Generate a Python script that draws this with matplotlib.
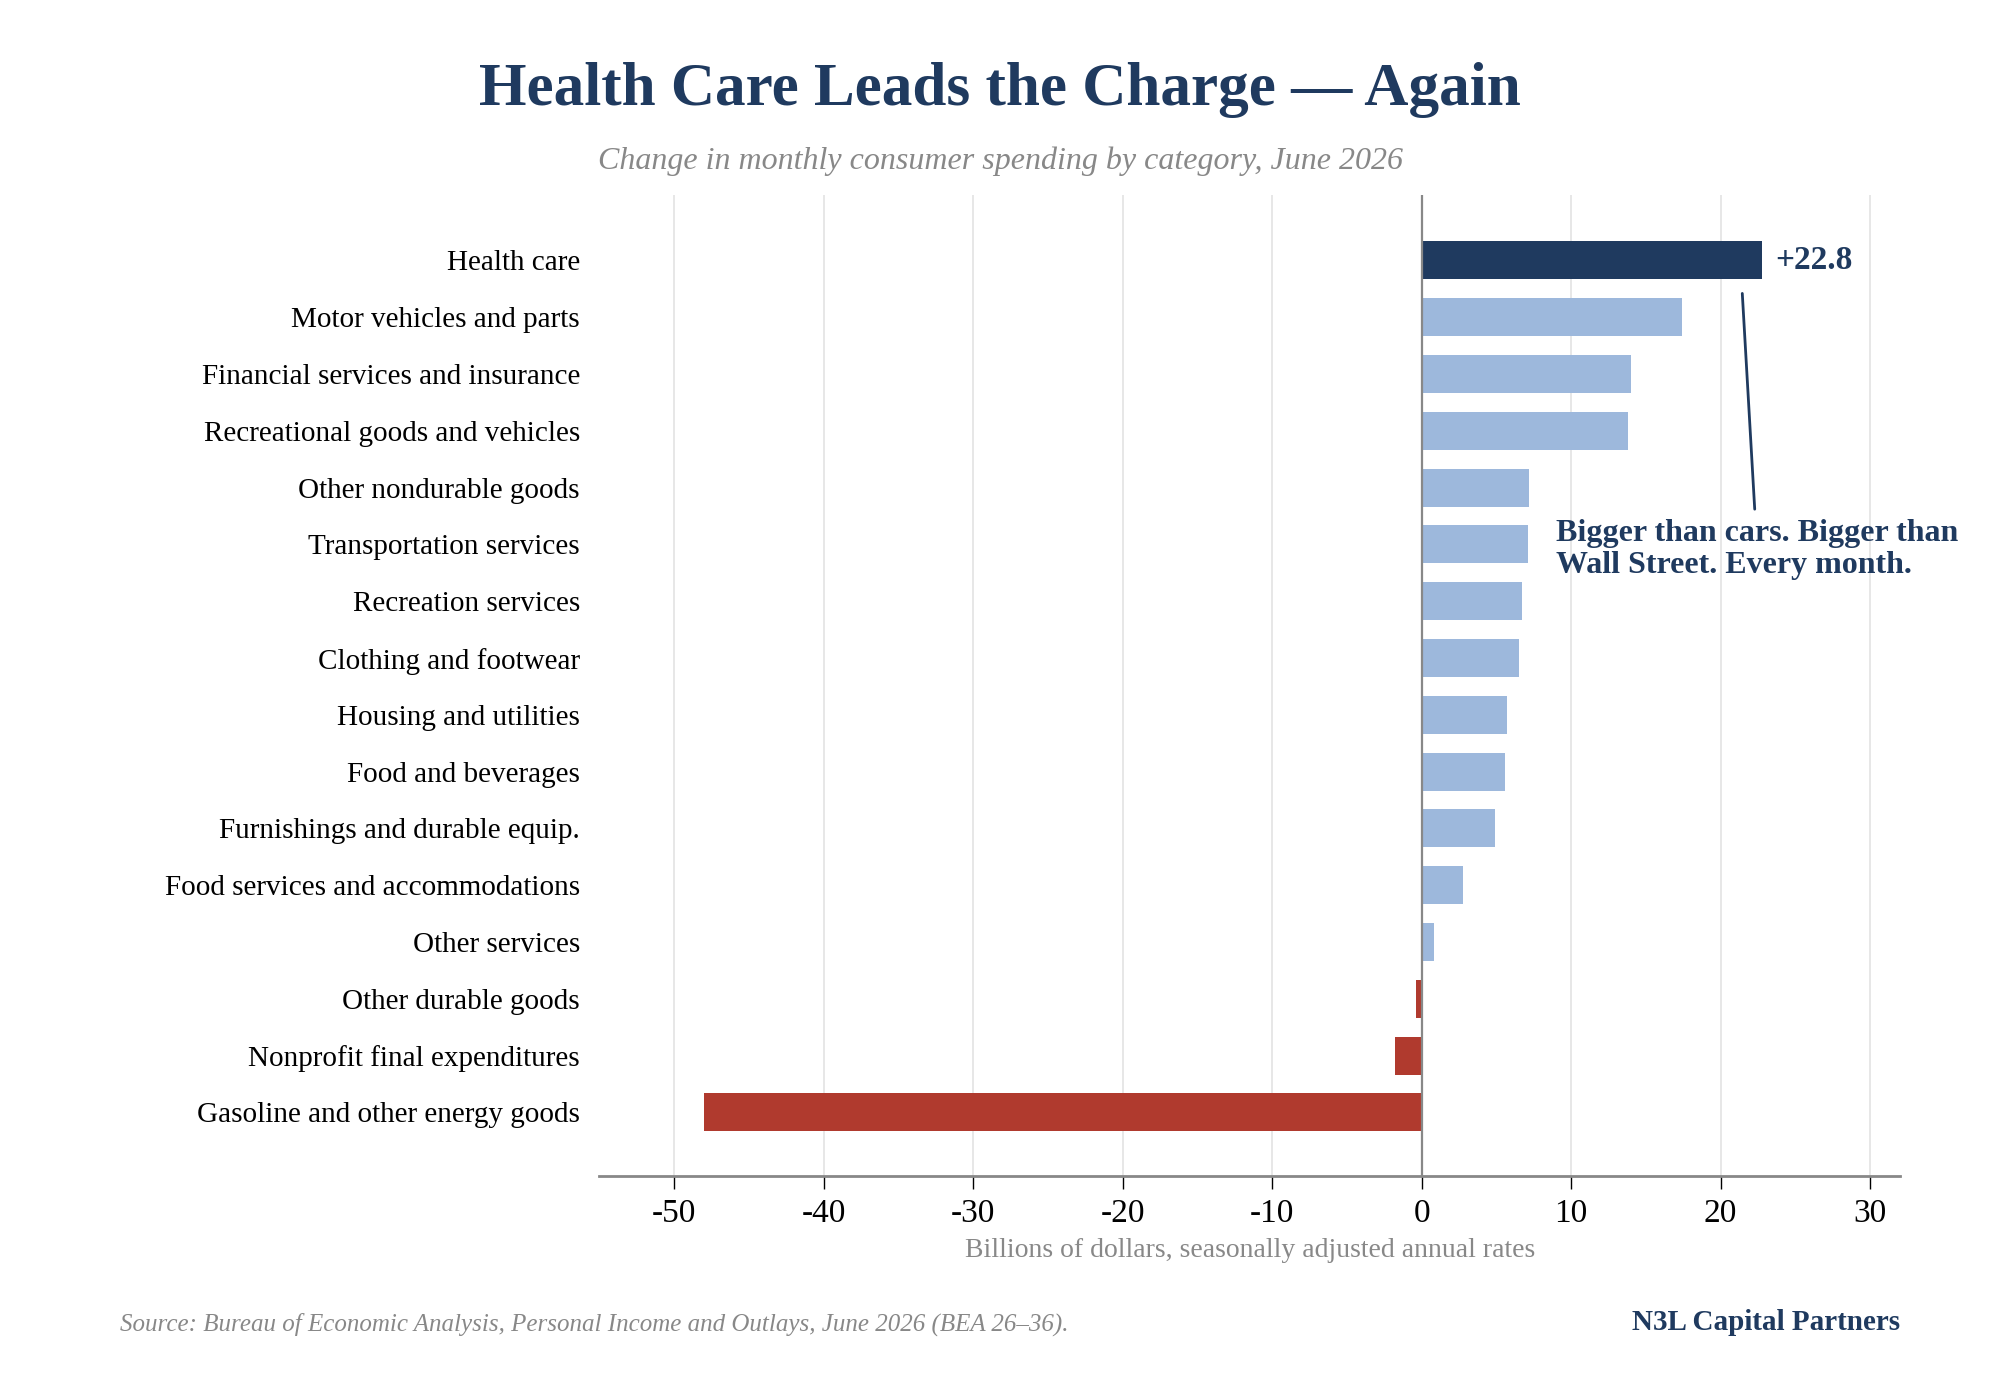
import matplotlib
matplotlib.use("Agg")
import matplotlib.pyplot as plt
import numpy as np

plt.rcParams["font.family"] = ["Liberation Serif", "DejaVu Serif"]

NAVY = "#1f3a5f"
LIGHT = "#9db8dc"
RED = "#b03a2e"
GRAY = "#888888"

categories = [
    "Health care",
    "Motor vehicles and parts",
    "Financial services and insurance",
    "Recreational goods and vehicles",
    "Other nondurable goods",
    "Transportation services",
    "Recreation services",
    "Clothing and footwear",
    "Housing and utilities",
    "Food and beverages",
    "Furnishings and durable equip.",
    "Food services and accommodations",
    "Other services",
    "Other durable goods",
    "Nonprofit final expenditures",
    "Gasoline and other energy goods",
]
values = [22.8, 17.4, 14.0, 13.8, 7.2, 7.1, 6.7, 6.5, 5.7, 5.6, 4.9, 2.8, 0.8, -0.4, -1.8, -48.0]
xticks = [-50, -40, -30, -20, -10, 0, 10, 20, 30]

colors = []
for i, v in enumerate(values):
    if i == 0:
        colors.append(NAVY)
    elif v < 0:
        colors.append(RED)
    else:
        colors.append(LIGHT)

fig = plt.figure(figsize=(20, 14), dpi=100)
ax = fig.add_axes([0.2997, 0.160, 0.6503, 0.7006])

y = np.arange(len(categories))
ax.barh(y, values, height=0.67, color=colors, zorder=3)

ax.set_xlim(-55, 32)
ax.set_ylim(len(categories) - 1 + 1.12, -1.15)
ax.set_xticks(xticks)
ax.set_xticklabels([str(t) for t in xticks], fontsize=24)
ax.set_yticks(y)
ax.set_yticklabels(categories, fontsize=21)
ax.tick_params(axis="y", length=0, pad=14)
ax.tick_params(axis="x", length=9, width=1, color="black", pad=7)

ax.grid(axis="x", color="#e5e5e5", linewidth=1.3, zorder=0)
ax.axvline(0, color=GRAY, linewidth=1.6, zorder=4)
for s in ["top", "right", "left"]:
    ax.spines[s].set_visible(False)
ax.spines["bottom"].set_color(GRAY)
ax.spines["bottom"].set_linewidth(2)

ax.set_xlabel("Billions of dollars, seasonally adjusted annual rates",
              fontsize=20, color=GRAY, labelpad=7)

# value label on the lead bar
ax.annotate("+22.8", xy=(values[0], 0), xytext=(9, 0), textcoords="offset points",
            va="center", ha="left", fontsize=24, fontweight="bold", color=NAVY)

ax.annotate("Bigger than cars. Bigger than\nWall Street. Every month.",
            xy=(21.45, 0.58), xytext=(9.0, 4.55), ha="left", va="top",
            fontsize=23, fontweight="bold", color=NAVY, linespacing=1.13,
            arrowprops=dict(arrowstyle="-", color=NAVY, lw=2,
                            relpos=(0.495, 1.0), shrinkA=5, shrinkB=0))

fig.text(0.4997, 0.936, "Health Care Leads the Charge \u2014 Again", ha="center", va="center",
         fontsize=44, fontweight="bold", color=NAVY)
fig.text(0.5, 0.885, "Change in monthly consumer spending by category, June 2026",
         ha="center", va="center", fontsize=23, style="italic", color=GRAY)
fig.text(0.060, 0.054, "Source: Bureau of Economic Analysis, Personal Income and Outlays, June 2026 (BEA 26\u201336).",
         ha="left", va="center", fontsize=18, style="italic", color=GRAY)
fig.text(0.950, 0.055, "N3L Capital Partners", ha="right", va="center",
         fontsize=21, fontweight="bold", color=NAVY)

fig.savefig("out.png", dpi=100, facecolor="white")
